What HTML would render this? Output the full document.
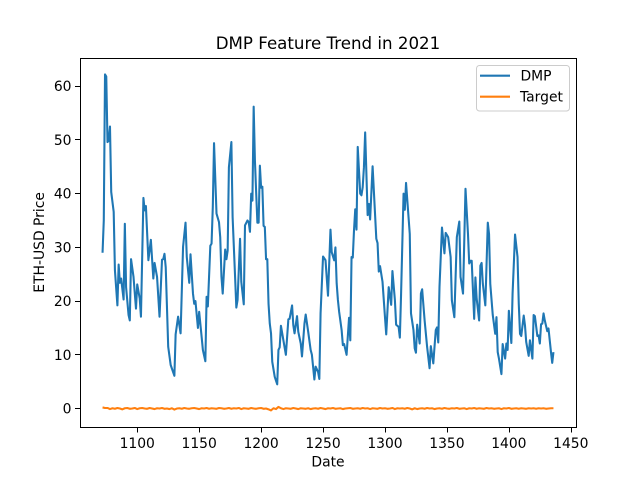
<!DOCTYPE html>
<html>
<head>
<meta charset="utf-8">
<title>DMP Feature Trend in 2021</title>
<style>
html,body{margin:0;padding:0;background:#fff;width:640px;height:480px;overflow:hidden}
svg{display:block}
text{font-family:"DejaVu Sans","Liberation Sans",sans-serif;fill:#000}
</style>
</head>
<body>
<svg id="chart" xmlns="http://www.w3.org/2000/svg" width="640" height="480" viewBox="0 0 640 480">
  <rect x="0" y="0" width="640" height="480" fill="#fff"/>
  <text x="328" y="49" font-size="16.67" text-anchor="middle">DMP Feature Trend in 2021</text>
  <text x="328" y="466.5" font-size="13.89" text-anchor="middle">Date</text>
  <text x="0" y="0" font-size="13.89" text-anchor="middle" transform="translate(44 242.4) rotate(-90)">ETH-USD Price</text>
  <g id="ticks"></g>
  <g id="series"></g>
  <g fill="none" stroke="#000" stroke-width="1" shape-rendering="crispEdges">
    <line x1="80.5" y1="58" x2="80.5" y2="428"/>
    <line x1="576.5" y1="58" x2="576.5" y2="428"/>
    <line x1="80" y1="58.5" x2="577" y2="58.5"/>
    <line x1="80" y1="427.5" x2="577" y2="427.5"/>
  </g>
  <g>
    <rect x="476.5" y="65.5" width="93" height="45.5" rx="3" ry="3" fill="#fff" fill-opacity="0.8" stroke="#ccc" stroke-width="1"/>
    <line x1="480" y1="75.7" x2="510" y2="75.7" stroke="#1f77b4" stroke-width="2.08"/>
    <text x="520.5" y="80.5" font-size="13.89">DMP</text>
    <line x1="480" y1="96.7" x2="510" y2="96.7" stroke="#ff7f0e" stroke-width="2.08"/>
    <text x="520" y="101.7" font-size="13.89">Target</text>
  </g>
</svg>
<script>
const dmpDates = [1072,1073,1074,1075,1076,1077,1078,1079,1081,1082,1084,1085,1086,1087,1089,1090,1091,1093,1094,1095,1097,1099,1100,1102,1103,1105,1106,1107,1109,1111,1113,1114,1116,1118,1120,1121,1122,1123,1125,1127,1130,1131,1133,1135,1137,1139,1140,1142,1143,1145,1146,1147,1149,1150,1152,1153,1155,1156,1157,1159,1160,1161,1162,1164,1166,1167,1168,1169,1171,1172,1173,1174,1176,1177,1179,1180,1181,1183,1184,1186,1187,1189,1190,1191,1192,1193,1194,1195,1196,1197,1198,1199,1200,1201,1202,1203,1204,1205,1206,1207,1208,1209,1211,1213,1214,1215,1216,1218,1220,1222,1223,1225,1226,1227,1229,1230,1232,1233,1235,1236,1238,1240,1241,1243,1244,1246,1247,1248,1250,1252,1254,1256,1257,1259,1260,1261,1262,1263,1265,1266,1267,1269,1271,1272,1273,1274,1275,1276,1277,1278,1280,1281,1282,1283,1284,1286,1287,1288,1290,1293,1294,1295,1296,1298,1300,1301,1303,1305,1306,1308,1309,1311,1312,1313,1315,1316,1317,1320,1321,1323,1324,1325,1326,1328,1329,1330,1332,1334,1336,1337,1339,1341,1342,1343,1344,1346,1348,1349,1351,1353,1354,1356,1358,1360,1361,1363,1365,1367,1368,1369,1370,1372,1373,1374,1376,1377,1378,1379,1381,1383,1384,1385,1387,1389,1390,1391,1392,1394,1395,1397,1398,1399,1400,1402,1403,1405,1407,1408,1409,1410,1412,1413,1414,1416,1417,1419,1420,1421,1423,1424,1425,1426,1427,1428,1429,1431,1432,1434,1435,1436];
const dmpValues = [29.0,35.0,62.2,61.8,49.6,49.9,52.5,40.3,36.6,25.7,19.2,26.8,23.4,24.2,20.3,34.4,22.6,17.4,16.4,27.8,24.5,18.6,23.1,20.5,17.1,39.2,36.9,37.7,27.6,31.4,24.2,27.1,24.5,17.1,27.7,27.8,28.8,26.3,11.5,8.1,6.1,13.8,17.1,14.0,30.1,34.6,28.2,23.4,28.7,21.4,19.5,20.0,15.0,18.0,13.3,10.9,8.8,20.8,19.0,30.3,30.7,37.5,49.4,36.3,34.7,31.9,24.5,21.4,29.6,27.8,29.4,44.9,49.6,35.6,24.5,18.8,20.2,31.6,23.6,19.4,34.1,35.0,34.7,32.9,40.0,38.7,56.2,46.2,40.3,34.6,34.6,45.2,41.1,41.3,34.0,33.8,27.8,27.8,19.5,15.8,14.0,8.7,5.9,4.5,10.9,11.4,15.4,12.7,10.0,16.6,16.7,19.2,15.5,14.0,17.2,14.3,12.1,9.7,15.8,17.5,14.3,10.9,10.0,5.4,7.8,6.8,5.5,17.7,28.3,27.6,21.0,33.3,29.1,27.6,30.0,23.3,20.2,18.0,14.6,11.8,12.0,10.0,16.9,12.7,28.2,28.1,33.2,37.1,33.3,48.7,40.0,39.7,41.2,44.9,51.4,36.0,38.1,35.2,45.1,31.6,30.8,25.5,26.5,23.6,17.0,13.8,22.6,19.3,25.6,20.2,15.6,15.2,13.2,21.4,40.0,37.0,42.0,32.5,17.7,14.6,11.2,10.4,15.6,12.1,21.4,22.2,16.4,11.5,7.5,11.6,8.4,14.6,15.1,12.3,22.6,33.7,28.9,32.7,31.9,28.2,20.1,17.0,31.9,34.8,24.5,21.4,40.9,32.5,27.0,27.5,27.5,16.7,24.4,20.5,16.4,26.6,27.1,23.2,19.2,34.6,32.5,23.2,17.4,13.9,17.0,10.5,9.3,6.4,12.0,9.3,12.1,10.9,18.2,12.2,21.4,32.4,28.2,19.5,13.9,13.5,17.3,15.5,12.4,9.8,12.7,9.3,17.4,17.2,13.5,13.6,12.1,15.7,15.8,17.7,16.4,14.4,14.9,10.5,8.5,10.5];
const targetDates = [1072,1074,1076,1078,1080,1082,1084,1086,1088,1090,1092,1094,1096,1098,1100,1102,1104,1106,1108,1110,1112,1114,1116,1118,1120,1122,1124,1126,1128,1130,1132,1134,1136,1138,1140,1142,1144,1146,1148,1150,1152,1154,1156,1158,1160,1162,1164,1166,1168,1170,1172,1174,1176,1178,1180,1182,1184,1186,1188,1190,1192,1194,1196,1198,1200,1202,1204,1206,1208,1210,1212,1214,1216,1218,1220,1222,1224,1226,1228,1230,1232,1234,1236,1238,1240,1242,1244,1246,1248,1250,1252,1254,1256,1258,1260,1262,1264,1266,1268,1270,1272,1274,1276,1278,1280,1282,1284,1286,1288,1290,1292,1294,1296,1298,1300,1302,1304,1306,1308,1310,1312,1314,1316,1318,1320,1322,1324,1326,1328,1330,1332,1334,1336,1338,1340,1342,1344,1346,1348,1350,1352,1354,1356,1358,1360,1362,1364,1366,1368,1370,1372,1374,1376,1378,1380,1382,1384,1386,1388,1390,1392,1394,1396,1398,1400,1402,1404,1406,1408,1410,1412,1414,1416,1418,1420,1422,1424,1426,1428,1430,1432,1434,1436];
const targetValues = [0.2,0.1,0.1,-0.1,0.05,-0.05,0.1,0,-0.15,0.05,0.1,-0.05,0,0.1,-0.1,0.05,0.1,0,-0.05,0.1,0,-0.1,0.05,0,0.1,-0.05,0,-0.1,0.05,-0.2,0,0.05,-0.05,0.1,0,-0.05,0.05,0.1,0,-0.1,0.05,0,0.1,-0.05,0.05,0,-0.05,0.1,0.05,-0.05,0,0.1,-0.05,0.05,0,0.1,-0.1,0.05,0,-0.05,0.1,0,-0.05,0.05,0.1,-0.05,0,-0.15,-0.35,0.05,-0.1,0.3,0.05,-0.1,0.05,0,-0.05,0.1,0,-0.1,0.05,0,-0.05,0.05,-0.1,0,0.05,-0.05,0.1,0,-0.1,0.05,0,0.1,-0.05,0,0.05,-0.1,0,0.05,0.1,-0.05,0,0.05,-0.05,0.1,0,0.05,-0.1,0.05,0,-0.05,0.1,0,0.05,-0.05,0,0.1,-0.1,0.05,0,0.05,-0.05,0.1,0,-0.15,0.05,-0.1,0,0.05,-0.05,0.1,0,0.05,-0.1,0,0.05,-0.05,0.1,0,-0.05,0.05,0,0.1,-0.05,0,0.05,-0.1,0.05,0,0.1,-0.05,0.05,0,-0.05,0.1,0,0.05,-0.05,0,0.05,-0.1,0.05,0,0.1,-0.05,0,0.05,-0.05,0.05,0,-0.05,0.05,0,0.05,-0.05,0.05,0,0.05,-0.05,0,0.05,0.05];
const xTickLabels = [1100,1150,1200,1250,1300,1350,1400,1450];
const yTickLabels = [0,10,20,30,40,50,60];

const plotLeft = 80, plotRight = 576, plotTop = 57.6, plotBottom = 427.2;
const svgNS = 'http://www.w3.org/2000/svg';
const allX = dmpDates.concat(targetDates);
const allY = dmpValues.concat(targetValues);
const xLo = Math.min.apply(null, allX), xHi = Math.max.apply(null, allX);
const yLo = Math.min.apply(null, allY), yHi = Math.max.apply(null, allY);
const xPad = (xHi - xLo) * 0.05, yPad = (yHi - yLo) * 0.05;

function xScale(v) {
  return plotLeft + (v - (xLo - xPad)) / ((xHi + xPad) - (xLo - xPad)) * (plotRight - plotLeft);
}
function yScale(v) {
  return plotBottom - (v - (yLo - yPad)) / ((yHi + yPad) - (yLo - yPad)) * (plotBottom - plotTop);
}
function make(tag) {
  return document.createElementNS(svgNS, tag);
}
function pointsFor(xs, ys) {
  return xs.map(function (x, i) {
    return xScale(x).toFixed(2) + ',' + yScale(ys[i]).toFixed(2);
  }).join(' ');
}

const ticksGroup = document.getElementById('ticks');
xTickLabels.forEach(function (t) {
  const px = Math.round(xScale(t)) + 0.5;
  const mark = make('line');
  
  
  mark.setAttribute('x1', px);
  mark.setAttribute('x2', px);
  mark.setAttribute('y1', 427.5);
  mark.setAttribute('y2', 432.5);
  mark.setAttribute('stroke', '#000');
  mark.setAttribute('stroke-width', '1');
  mark.setAttribute('shape-rendering', 'crispEdges');
  ticksGroup.appendChild(mark);
  const label = make('text');
  
  
  label.setAttribute('x', xScale(t));
  label.setAttribute('y', 448);
  label.setAttribute('font-size', '13.89');
  label.setAttribute('text-anchor', 'middle');
  label.textContent = String(t);
  ticksGroup.appendChild(label);
});
yTickLabels.forEach(function (t) {
  const py = Math.floor(yScale(t)) + 0.5;
  const mark = make('line');
  
  
  mark.setAttribute('x1', 75);
  mark.setAttribute('x2', 80);
  mark.setAttribute('y1', py);
  mark.setAttribute('y2', py);
  mark.setAttribute('stroke', '#000');
  mark.setAttribute('stroke-width', '1');
  mark.setAttribute('shape-rendering', 'crispEdges');
  ticksGroup.appendChild(mark);
  const label = make('text');
  
  
  label.setAttribute('x', 71.5);
  label.setAttribute('y', yScale(t) + 5);
  label.setAttribute('font-size', '13.89');
  label.setAttribute('text-anchor', 'end');
  label.textContent = String(t);
  ticksGroup.appendChild(label);
});

const seriesGroup = document.getElementById('series');
const dmpLine = make('polyline');


dmpLine.setAttribute('points', pointsFor(dmpDates, dmpValues));
dmpLine.setAttribute('fill', 'none');
dmpLine.setAttribute('stroke', '#1f77b4');
dmpLine.setAttribute('stroke-width', '2.08');
dmpLine.setAttribute('stroke-linejoin', 'round');
seriesGroup.appendChild(dmpLine);
const targetLine = make('polyline');


targetLine.setAttribute('points', pointsFor(targetDates, targetValues));
targetLine.setAttribute('fill', 'none');
targetLine.setAttribute('stroke', '#ff7f0e');
targetLine.setAttribute('stroke-width', '2.08');
targetLine.setAttribute('stroke-linejoin', 'round');
seriesGroup.appendChild(targetLine);
</script>
</body>
</html>
